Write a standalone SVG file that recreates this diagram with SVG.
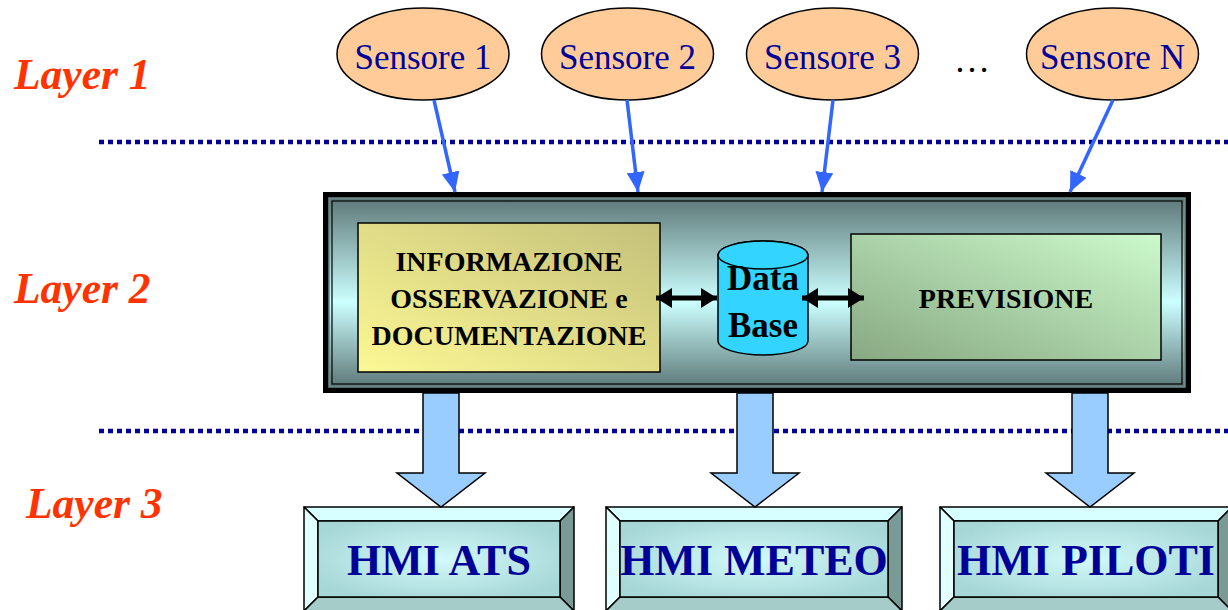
<svg xmlns="http://www.w3.org/2000/svg" width="1228" height="610" viewBox="0 0 1228 610">
<style>
.serif{font-family:"Liberation Serif","Times New Roman",serif}
.layer{font-family:"Liberation Serif",serif;font-weight:bold;font-style:italic;font-size:43.5px;fill:#FF3300}
.sens{fill:#FFCC99;stroke:#000;stroke-width:1.5}
.senst{font-family:"Liberation Serif",serif;font-size:35px;fill:#000099;text-anchor:middle}
.dot{stroke:#000099;stroke-width:4.5;stroke-dasharray:5 4;fill:none}
.sarrow{stroke:#3366FF;stroke-width:3.5;fill:none;marker-end:url(#bh)}
.darrow{stroke:#000;stroke-width:5;fill:none;marker-start:url(#kh);marker-end:url(#kh)}
.blk{fill:#99CCFF;stroke:#000;stroke-width:1.5}
.bt{font-family:"Liberation Serif",serif;font-weight:bold;font-size:28px;fill:#000;text-anchor:middle}
.hmit{font-family:"Liberation Serif",serif;font-weight:bold;font-size:44px;fill:#000099;text-anchor:middle}
.bv{stroke:#000;stroke-width:1.5;stroke-linejoin:round}
</style>
<defs>
<marker id="bh" markerUnits="userSpaceOnUse" markerWidth="20" markerHeight="18" refX="20" refY="9" orient="auto">
<path d="M0,0 L20,9 L0,18 z" fill="#3366FF"/>
</marker>
<marker id="kh" markerUnits="userSpaceOnUse" markerWidth="16" markerHeight="20" refX="16" refY="10" orient="auto-start-reverse">
<path d="M0,0 L16,10 L0,20 z" fill="#000"/>
</marker>
<linearGradient id="mainG" x1="0" y1="0" x2="0" y2="1">
<stop offset="0" stop-color="#5E7878"/>
<stop offset="0.55" stop-color="#CCFFFF"/>
<stop offset="1" stop-color="#5E7878"/>
</linearGradient>
<linearGradient id="yelG" x1="0" y1="1" x2="1" y2="0">
<stop offset="0" stop-color="#FCF894"/>
<stop offset="1" stop-color="#C4C07A"/>
</linearGradient>
<linearGradient id="grnG" x1="0" y1="1" x2="1" y2="0">
<stop offset="0" stop-color="#88A882"/>
<stop offset="1" stop-color="#CCFACC"/>
</linearGradient>
<radialGradient id="hmiG" cx="0.5" cy="0.5" r="0.6">
<stop offset="0" stop-color="#D2FAFA"/>
<stop offset="1" stop-color="#A6D6D6"/>
</radialGradient>
</defs>

<g id="layer-labels">
<text class="layer" x="14" y="89">Layer 1</text>
<text class="layer" x="14" y="303">Layer 2</text>
<text class="layer" x="26" y="518">Layer 3</text>
</g>

<g id="separators">
<line class="dot" x1="99" y1="142" x2="1228" y2="142"/>
<line class="dot" x1="99" y1="431" x2="1228" y2="431"/>
</g>

<g id="sensore-1">
<ellipse class="sens" cx="423" cy="54" rx="86" ry="46"/>
<text class="senst" x="423" y="69">Sensore 1</text>
</g>
<g id="sensore-2">
<ellipse class="sens" cx="627.5" cy="54" rx="86" ry="46"/>
<text class="senst" x="627.5" y="69">Sensore 2</text>
</g>
<g id="sensore-3">
<ellipse class="sens" cx="832.5" cy="54" rx="86" ry="46"/>
<text class="senst" x="832.5" y="69">Sensore 3</text>
</g>
<g id="ellipsis">
<text class="serif" x="954" y="72" font-size="36" fill="#000">…</text>
</g>
<g id="sensore-n">
<ellipse class="sens" cx="1112.5" cy="54" rx="86" ry="46"/>
<text class="senst" x="1112.5" y="69">Sensore N</text>
</g>

<g id="layer2-box">
<rect x="323" y="192" width="868" height="201" fill="#000"/>
<rect x="329" y="198" width="856" height="189" fill="url(#mainG)" stroke="#6E8C8C" stroke-width="1.5"/>
<rect x="332" y="201" width="850" height="183" fill="none" stroke="#000" stroke-width="1.2"/>
</g>

<g id="informazione">
<rect x="358" y="223" width="302" height="149" fill="url(#yelG)" stroke="#000" stroke-width="1.5"/>
<text class="bt" x="509" y="271">INFORMAZIONE</text>
<text class="bt" x="509" y="308">OSSERVAZIONE e</text>
<text class="bt" x="509" y="345">DOCUMENTAZIONE</text>
</g>

<g id="database">
<path d="M718,255 L718,341 A45,14 0 0 0 808,341 L808,255 A45,14 0 0 0 718,255 z" fill="#33D4FF" stroke="#000" stroke-width="1.5"/>
<ellipse cx="763" cy="255" rx="45" ry="14" fill="#33D4FF" stroke="#000" stroke-width="1.5"/>
<text class="serif" x="763" y="290" font-size="35" font-weight="bold" text-anchor="middle" fill="#000">Data</text>
<text class="serif" x="763" y="337" font-size="35" font-weight="bold" text-anchor="middle" fill="#000">Base</text>
</g>

<g id="previsione">
<rect x="851" y="234" width="310" height="126" fill="url(#grnG)" stroke="#000" stroke-width="1.5"/>
<text class="bt" x="1006" y="308">PREVISIONE</text>
</g>

<g id="hmi-ats">
<polygon class="bv" points="304,507 574,507 560,521 318,521" fill="#D8FFFF"/>
<polygon class="bv" points="304,507 318,521 318,597 304,611" fill="#E2FFFF"/>
<polygon class="bv" points="574,507 574,611 560,597 560,521" fill="#7A9A96"/>
<polygon class="bv" points="304,611 318,597 560,597 574,611" fill="#A6CCCA"/>
<rect x="318" y="521" width="242" height="76" fill="url(#hmiG)" stroke="#000" stroke-width="1.5"/>
<text class="hmit" x="439" y="575">HMI ATS</text>
</g>

<g id="hmi-meteo">
<polygon class="bv" points="606,507 902,507 888,521 620,521" fill="#D8FFFF"/>
<polygon class="bv" points="606,507 620,521 620,597 606,611" fill="#E2FFFF"/>
<polygon class="bv" points="902,507 902,611 888,597 888,521" fill="#7A9A96"/>
<polygon class="bv" points="606,611 620,597 888,597 902,611" fill="#A6CCCA"/>
<rect x="620" y="521" width="268" height="76" fill="url(#hmiG)" stroke="#000" stroke-width="1.5"/>
<text class="hmit" x="754" y="575">HMI METEO</text>
</g>

<g id="hmi-piloti">
<polygon class="bv" points="940,507 1232,507 1218,521 954,521" fill="#D8FFFF"/>
<polygon class="bv" points="940,507 954,521 954,597 940,611" fill="#E2FFFF"/>
<polygon class="bv" points="1232,507 1232,611 1218,597 1218,521" fill="#7A9A96"/>
<polygon class="bv" points="940,611 954,597 1218,597 1232,611" fill="#A6CCCA"/>
<rect x="954" y="521" width="264" height="76" fill="url(#hmiG)" stroke="#000" stroke-width="1.5"/>
<text class="hmit" x="1086" y="575">HMI PILOTI</text>
</g>

<g id="connectors">
<line class="sarrow" x1="434" y1="100" x2="455" y2="192"/>
<line class="sarrow" x1="627" y1="100" x2="638" y2="192"/>
<line class="sarrow" x1="833" y1="100" x2="822" y2="192"/>
<line class="sarrow" x1="1113" y1="100" x2="1070" y2="192"/>
<line class="darrow" x1="656" y1="298" x2="717" y2="298"/>
<line class="darrow" x1="802" y1="298" x2="864" y2="298"/>
<polygon class="blk" points="423,393 459,393 459,473 485,473 441,507 397,473 423,473"/>
<polygon class="blk" points="737,393 773,393 773,473 799,473 755,507 711,473 737,473"/>
<polygon class="blk" points="1072,393 1108,393 1108,473 1134,473 1090,507 1046,473 1072,473"/>
</g>
</svg>
